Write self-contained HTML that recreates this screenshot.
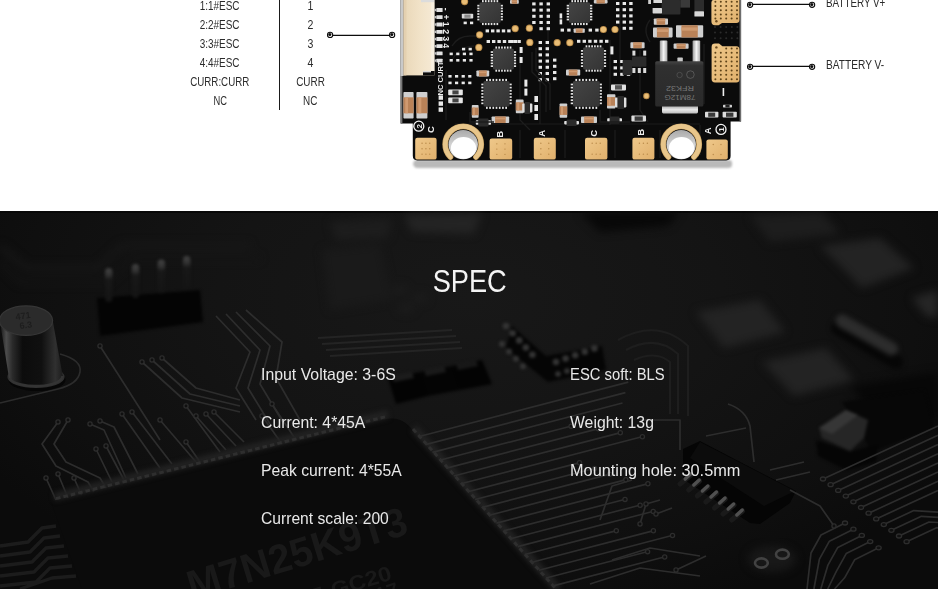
<!DOCTYPE html>
<html lang="en">
<head>
<meta charset="utf-8">
<title>4in1 ESC - Wiring &amp; SPEC</title>
<style>
*{box-sizing:border-box}
html,body{margin:0;padding:0;background:#fff}
body{width:938px;height:589px;overflow:hidden;position:relative;font-family:"Liberation Sans","Noto Sans CJK SC",sans-serif;-webkit-font-smoothing:antialiased}
.wiring{position:absolute;left:0;top:0;width:938px;height:211px;background:#fff;overflow:hidden}
.spec{position:absolute;left:0;top:211px;width:938px;height:378px;background:#131313;overflow:hidden}
svg{position:absolute;left:0;top:0;display:block}
svg text{font-family:"Liberation Sans","Noto Sans CJK SC",sans-serif}
.pin-table{position:absolute;left:0;top:0;margin:0;padding:0;list-style:none}
.t{position:absolute;white-space:nowrap;font-size:12.8px;line-height:14px;height:14px;color:#2b2b2b;text-align:center}
.t b{display:inline-block;font-weight:400;transform-origin:50% 50%}
.t.l{text-align:left}
.t.l b{transform-origin:0 50%}
.rule{position:absolute;left:279px;top:0;width:1px;height:110px;background:#1a1a1a}
h2{position:absolute;left:0;top:51.1px;width:938px;margin:0;padding-left:1px;text-align:center;font-size:31.4px;line-height:40px;font-weight:400;color:#f4f4f4}
h2 b{display:inline-block;font-weight:400;transform:scaleX(.866)}
.specs{margin:0;padding:0;list-style:none}
.specs li{position:absolute;white-space:nowrap;font-size:17px;line-height:20px;color:#e8e8e8}
.specs li b{display:inline-block;font-weight:400;transform-origin:0 50%}
</style>
</head>
<body>
<section class="wiring">
<svg width="938" height="211" viewBox="0 0 938 211">
<defs>
<linearGradient id="chipg" x1="0" y1="0" x2="1" y2="1"><stop offset="0" stop-color="#444"/><stop offset="1" stop-color="#343434"/></linearGradient>
<linearGradient id="regg" x1="0" y1="0" x2="0" y2="1"><stop offset="0" stop-color="#454545"/><stop offset=".1" stop-color="#303030"/><stop offset="1" stop-color="#2a2a2a"/></linearGradient>
<linearGradient id="goldg" x1="0" y1="0" x2="1" y2="1"><stop offset="0" stop-color="#efc88a"/><stop offset="1" stop-color="#e0b06c"/></linearGradient>
<linearGradient id="ringg" x1="0" y1="0" x2="0" y2="1"><stop offset="0" stop-color="#d2b074"/><stop offset="1" stop-color="#c39f60"/></linearGradient>
<linearGradient id="conn" x1="0" y1="0" x2="1" y2="0"><stop offset="0" stop-color="#e9d7b8"/><stop offset=".5" stop-color="#f1e2c7"/><stop offset="1" stop-color="#f6ead6"/></linearGradient>
<linearGradient id="lead" x1="0" y1="0" x2="1" y2="0"><stop offset="0" stop-color="#9a9a9a"/><stop offset=".5" stop-color="#f4f4f4"/><stop offset="1" stop-color="#a8a8a8"/></linearGradient>
<linearGradient id="tab" x1="0" y1="0" x2="0" y2="1"><stop offset="0" stop-color="#8a8a8a"/><stop offset=".6" stop-color="#e8e8e8"/><stop offset="1" stop-color="#bdbdbd"/></linearGradient>
<linearGradient id="holeg" x1="0" y1="0" x2="0" y2="1"><stop offset="0" stop-color="#a9a9a9"/><stop offset=".45" stop-color="#cfcfcf"/><stop offset="1" stop-color="#e8e8e8"/></linearGradient>
<filter id="sh2" color-interpolation-filters="sRGB" x="-20%" y="-20%" width="140%" height="140%"><feGaussianBlur stdDeviation="0.6"/></filter>
<filter id="sh" color-interpolation-filters="sRGB" x="-5%" y="-60%" width="110%" height="220%"><feGaussianBlur stdDeviation="1.1"/></filter>
</defs>
<path d="M415 160 H729 q3 0 3 3 v2 q0 3 -4 3 H418 q-5 0 -5 -5 z" fill="#b9b9b9" filter="url(#sh)"/>
<path d="M400.6 0 H741 V121.5 H730.6 V156 q0 4.4 -4.4 4.4 H417.4 q-4.6 0 -4.6 -4.6 V123.6 H400.6 z" fill="#0b0b0b"/>
<rect x="400.6" y="0" width="3" height="76" fill="#c9c9c9"/>
<rect x="400.6" y="76" width="1.8" height="47.6" fill="#777"/>
<rect x="739.6" y="0" width="1.6" height="121.5" fill="#6d6d6d"/>
<g stroke="#1d1d1d" stroke-width="1.2" fill="none"><path d="M446 70 V120 M452 60 q8 -14 22 -14 M520 50 V120 l10 10 M548 8 V70 l-8 10 V124 M610 40 V125 M620 12 v60 M640 50 v60 l8 12 M455 124 H700 M470 130 v28 M520 130 v28 M565 130 v28 M615 130 v28 M660 130 v28 M700 125 v30"/></g>
<rect x="403.6" y="0" width="30.8" height="75.4" fill="url(#conn)"/>
<path d="M423 71 H434.4 V75.4 H423 z" fill="#0b0b0b"/>
<path d="M423 71 H431 V72.4 H423 z" fill="#d8d8d8"/>
<rect x="403.6" y="0" width="2.8" height="75.4" fill="#e4d0b0"/>
<rect x="431.2" y="2.2" width="3.2" height="68.8" fill="#f7efe0"/>
<rect x="421" y="0" width="13.4" height="2.2" fill="#dcdcdc"/>
<rect x="434.4" y="8.8" width="2" height="2.4" fill="#bdbdbd"/>
<rect x="436.4" y="8.1" width="6.2" height="3.8" fill="#e2e2e2" rx="0.5"/>
<rect x="434.4" y="16" width="2" height="2.4" fill="#bdbdbd"/>
<rect x="436.4" y="15.3" width="6.2" height="3.8" fill="#e2e2e2" rx="0.5"/>
<rect x="434.4" y="23.3" width="2" height="2.4" fill="#bdbdbd"/>
<rect x="436.4" y="22.6" width="6.2" height="3.8" fill="#e2e2e2" rx="0.5"/>
<rect x="434.4" y="30.6" width="2" height="2.4" fill="#bdbdbd"/>
<rect x="436.4" y="29.9" width="6.2" height="3.8" fill="#e2e2e2" rx="0.5"/>
<rect x="434.4" y="37.8" width="2" height="2.4" fill="#bdbdbd"/>
<rect x="436.4" y="37.1" width="6.2" height="3.8" fill="#e2e2e2" rx="0.5"/>
<rect x="434.4" y="45" width="2" height="2.4" fill="#bdbdbd"/>
<rect x="436.4" y="44.3" width="6.2" height="3.8" fill="#e2e2e2" rx="0.5"/>
<rect x="434.4" y="52.2" width="2" height="2.4" fill="#bdbdbd"/>
<rect x="436.4" y="51.5" width="6.2" height="3.8" fill="#e2e2e2" rx="0.5"/>
<rect x="434.4" y="59.4" width="2" height="2.4" fill="#bdbdbd"/>
<rect x="436.4" y="58.7" width="6.2" height="3.8" fill="#e2e2e2" rx="0.5"/>
<text x="443" y="9.2" font-size="8.8" font-weight="bold" fill="#f2f2f2" opacity=".98" text-anchor="middle" transform="rotate(90 443 9.2)">-</text>
<text x="443" y="17" font-size="8.8" font-weight="bold" fill="#f2f2f2" opacity=".98" text-anchor="middle" transform="rotate(90 443 17)">+</text>
<text x="443" y="24.3" font-size="8.8" font-weight="bold" fill="#f2f2f2" opacity=".98" text-anchor="middle" transform="rotate(90 443 24.3)">1</text>
<text x="443" y="31.6" font-size="8.8" font-weight="bold" fill="#f2f2f2" opacity=".98" text-anchor="middle" transform="rotate(90 443 31.6)">2</text>
<text x="443" y="38.6" font-size="8.8" font-weight="bold" fill="#f2f2f2" opacity=".98" text-anchor="middle" transform="rotate(90 443 38.6)">3</text>
<text x="443" y="45.8" font-size="8.8" font-weight="bold" fill="#f2f2f2" opacity=".98" text-anchor="middle" transform="rotate(90 443 45.8)">4</text>
<text x="443.4" y="78.4" font-size="7.6" font-weight="bold" fill="#f2f2f2" opacity=".98" text-anchor="middle" transform="rotate(-90 443.4 78.4)">NC CURT</text>
<circle cx="464.6" cy="1.6" r="3.6" fill="#b88a48"/>
<circle cx="464.6" cy="1.6" r="2.7" fill="#e9bd76"/>
<circle cx="479.6" cy="34.8" r="3.6" fill="#b88a48"/>
<circle cx="479.6" cy="34.8" r="2.7" fill="#e9bd76"/>
<circle cx="478.8" cy="47.4" r="3.6" fill="#b88a48"/>
<circle cx="478.8" cy="47.4" r="2.7" fill="#e9bd76"/>
<circle cx="515.2" cy="28.6" r="3.6" fill="#b88a48"/>
<circle cx="515.2" cy="28.6" r="2.7" fill="#e9bd76"/>
<circle cx="529.4" cy="28.2" r="3.6" fill="#b88a48"/>
<circle cx="529.4" cy="28.2" r="2.7" fill="#e9bd76"/>
<circle cx="529.8" cy="42.4" r="3.6" fill="#b88a48"/>
<circle cx="529.8" cy="42.4" r="2.7" fill="#e9bd76"/>
<circle cx="557.2" cy="42.7" r="3.6" fill="#b88a48"/>
<circle cx="557.2" cy="42.7" r="2.7" fill="#e9bd76"/>
<circle cx="569.8" cy="42.7" r="3.6" fill="#b88a48"/>
<circle cx="569.8" cy="42.7" r="2.7" fill="#e9bd76"/>
<circle cx="603.4" cy="29.5" r="3.6" fill="#b88a48"/>
<circle cx="603.4" cy="29.5" r="2.7" fill="#e9bd76"/>
<circle cx="615" cy="29.5" r="3.6" fill="#b88a48"/>
<circle cx="615" cy="29.5" r="2.7" fill="#e9bd76"/>
<circle cx="646.4" cy="96" r="3.2" fill="#b88a48"/>
<circle cx="646.4" cy="96" r="2.3" fill="#e9bd76"/>
<g fill="#e4e4e4">
<rect x="482" y="0.1" width="1.7" height="2.3" fill="#e4e4e4"/>
<rect x="482" y="22.8" width="1.7" height="2.3" fill="#e4e4e4"/>
<rect x="477.3" y="4.8" width="2.3" height="1.7" fill="#e4e4e4"/>
<rect x="500.6" y="4.8" width="2.3" height="1.7" fill="#e4e4e4"/>
<rect x="484.9" y="0.1" width="1.7" height="2.3" fill="#e4e4e4"/>
<rect x="484.9" y="22.8" width="1.7" height="2.3" fill="#e4e4e4"/>
<rect x="477.3" y="7.58" width="2.3" height="1.7" fill="#e4e4e4"/>
<rect x="500.6" y="7.58" width="2.3" height="1.7" fill="#e4e4e4"/>
<rect x="487.8" y="0.1" width="1.7" height="2.3" fill="#e4e4e4"/>
<rect x="487.8" y="22.8" width="1.7" height="2.3" fill="#e4e4e4"/>
<rect x="477.3" y="10.36" width="2.3" height="1.7" fill="#e4e4e4"/>
<rect x="500.6" y="10.36" width="2.3" height="1.7" fill="#e4e4e4"/>
<rect x="490.7" y="0.1" width="1.7" height="2.3" fill="#e4e4e4"/>
<rect x="490.7" y="22.8" width="1.7" height="2.3" fill="#e4e4e4"/>
<rect x="477.3" y="13.14" width="2.3" height="1.7" fill="#e4e4e4"/>
<rect x="500.6" y="13.14" width="2.3" height="1.7" fill="#e4e4e4"/>
<rect x="493.6" y="0.1" width="1.7" height="2.3" fill="#e4e4e4"/>
<rect x="493.6" y="22.8" width="1.7" height="2.3" fill="#e4e4e4"/>
<rect x="477.3" y="15.92" width="2.3" height="1.7" fill="#e4e4e4"/>
<rect x="500.6" y="15.92" width="2.3" height="1.7" fill="#e4e4e4"/>
<rect x="496.5" y="0.1" width="1.7" height="2.3" fill="#e4e4e4"/>
<rect x="496.5" y="22.8" width="1.7" height="2.3" fill="#e4e4e4"/>
<rect x="477.3" y="18.7" width="2.3" height="1.7" fill="#e4e4e4"/>
<rect x="500.6" y="18.7" width="2.3" height="1.7" fill="#e4e4e4"/>
</g>
<rect x="479.6" y="2.4" width="21" height="20.4" fill="url(#chipg)" rx="1"/>
<g fill="#e4e4e4">
<rect x="571.4" y="0.1" width="1.7" height="2.3" fill="#e4e4e4"/>
<rect x="571.4" y="22.8" width="1.7" height="2.3" fill="#e4e4e4"/>
<rect x="566.7" y="4.8" width="2.3" height="1.7" fill="#e4e4e4"/>
<rect x="590" y="4.8" width="2.3" height="1.7" fill="#e4e4e4"/>
<rect x="574.3" y="0.1" width="1.7" height="2.3" fill="#e4e4e4"/>
<rect x="574.3" y="22.8" width="1.7" height="2.3" fill="#e4e4e4"/>
<rect x="566.7" y="7.58" width="2.3" height="1.7" fill="#e4e4e4"/>
<rect x="590" y="7.58" width="2.3" height="1.7" fill="#e4e4e4"/>
<rect x="577.2" y="0.1" width="1.7" height="2.3" fill="#e4e4e4"/>
<rect x="577.2" y="22.8" width="1.7" height="2.3" fill="#e4e4e4"/>
<rect x="566.7" y="10.36" width="2.3" height="1.7" fill="#e4e4e4"/>
<rect x="590" y="10.36" width="2.3" height="1.7" fill="#e4e4e4"/>
<rect x="580.1" y="0.1" width="1.7" height="2.3" fill="#e4e4e4"/>
<rect x="580.1" y="22.8" width="1.7" height="2.3" fill="#e4e4e4"/>
<rect x="566.7" y="13.14" width="2.3" height="1.7" fill="#e4e4e4"/>
<rect x="590" y="13.14" width="2.3" height="1.7" fill="#e4e4e4"/>
<rect x="583" y="0.1" width="1.7" height="2.3" fill="#e4e4e4"/>
<rect x="583" y="22.8" width="1.7" height="2.3" fill="#e4e4e4"/>
<rect x="566.7" y="15.92" width="2.3" height="1.7" fill="#e4e4e4"/>
<rect x="590" y="15.92" width="2.3" height="1.7" fill="#e4e4e4"/>
<rect x="585.9" y="0.1" width="1.7" height="2.3" fill="#e4e4e4"/>
<rect x="585.9" y="22.8" width="1.7" height="2.3" fill="#e4e4e4"/>
<rect x="566.7" y="18.7" width="2.3" height="1.7" fill="#e4e4e4"/>
<rect x="590" y="18.7" width="2.3" height="1.7" fill="#e4e4e4"/>
</g>
<rect x="569" y="2.4" width="21" height="20.4" fill="url(#chipg)" rx="1"/>
<g fill="#e4e4e4">
<rect x="495.4" y="46.5" width="1.7" height="2.3" fill="#e4e4e4"/>
<rect x="495.4" y="69.4" width="1.7" height="2.3" fill="#e4e4e4"/>
<rect x="490.7" y="51.2" width="2.3" height="1.7" fill="#e4e4e4"/>
<rect x="513.8" y="51.2" width="2.3" height="1.7" fill="#e4e4e4"/>
<rect x="498.26" y="46.5" width="1.7" height="2.3" fill="#e4e4e4"/>
<rect x="498.26" y="69.4" width="1.7" height="2.3" fill="#e4e4e4"/>
<rect x="490.7" y="54.02" width="2.3" height="1.7" fill="#e4e4e4"/>
<rect x="513.8" y="54.02" width="2.3" height="1.7" fill="#e4e4e4"/>
<rect x="501.12" y="46.5" width="1.7" height="2.3" fill="#e4e4e4"/>
<rect x="501.12" y="69.4" width="1.7" height="2.3" fill="#e4e4e4"/>
<rect x="490.7" y="56.84" width="2.3" height="1.7" fill="#e4e4e4"/>
<rect x="513.8" y="56.84" width="2.3" height="1.7" fill="#e4e4e4"/>
<rect x="503.98" y="46.5" width="1.7" height="2.3" fill="#e4e4e4"/>
<rect x="503.98" y="69.4" width="1.7" height="2.3" fill="#e4e4e4"/>
<rect x="490.7" y="59.66" width="2.3" height="1.7" fill="#e4e4e4"/>
<rect x="513.8" y="59.66" width="2.3" height="1.7" fill="#e4e4e4"/>
<rect x="506.84" y="46.5" width="1.7" height="2.3" fill="#e4e4e4"/>
<rect x="506.84" y="69.4" width="1.7" height="2.3" fill="#e4e4e4"/>
<rect x="490.7" y="62.48" width="2.3" height="1.7" fill="#e4e4e4"/>
<rect x="513.8" y="62.48" width="2.3" height="1.7" fill="#e4e4e4"/>
<rect x="509.7" y="46.5" width="1.7" height="2.3" fill="#e4e4e4"/>
<rect x="509.7" y="69.4" width="1.7" height="2.3" fill="#e4e4e4"/>
<rect x="490.7" y="65.3" width="2.3" height="1.7" fill="#e4e4e4"/>
<rect x="513.8" y="65.3" width="2.3" height="1.7" fill="#e4e4e4"/>
</g>
<rect x="493" y="48.8" width="20.8" height="20.6" fill="url(#chipg)" rx="1"/>
<g fill="#e4e4e4">
<rect x="585.6" y="45.3" width="1.7" height="2.3" fill="#e4e4e4"/>
<rect x="585.6" y="69.4" width="1.7" height="2.3" fill="#e4e4e4"/>
<rect x="580.9" y="50" width="2.3" height="1.7" fill="#e4e4e4"/>
<rect x="603.8" y="50" width="2.3" height="1.7" fill="#e4e4e4"/>
<rect x="588.42" y="45.3" width="1.7" height="2.3" fill="#e4e4e4"/>
<rect x="588.42" y="69.4" width="1.7" height="2.3" fill="#e4e4e4"/>
<rect x="580.9" y="53.06" width="2.3" height="1.7" fill="#e4e4e4"/>
<rect x="603.8" y="53.06" width="2.3" height="1.7" fill="#e4e4e4"/>
<rect x="591.24" y="45.3" width="1.7" height="2.3" fill="#e4e4e4"/>
<rect x="591.24" y="69.4" width="1.7" height="2.3" fill="#e4e4e4"/>
<rect x="580.9" y="56.12" width="2.3" height="1.7" fill="#e4e4e4"/>
<rect x="603.8" y="56.12" width="2.3" height="1.7" fill="#e4e4e4"/>
<rect x="594.06" y="45.3" width="1.7" height="2.3" fill="#e4e4e4"/>
<rect x="594.06" y="69.4" width="1.7" height="2.3" fill="#e4e4e4"/>
<rect x="580.9" y="59.18" width="2.3" height="1.7" fill="#e4e4e4"/>
<rect x="603.8" y="59.18" width="2.3" height="1.7" fill="#e4e4e4"/>
<rect x="596.88" y="45.3" width="1.7" height="2.3" fill="#e4e4e4"/>
<rect x="596.88" y="69.4" width="1.7" height="2.3" fill="#e4e4e4"/>
<rect x="580.9" y="62.24" width="2.3" height="1.7" fill="#e4e4e4"/>
<rect x="603.8" y="62.24" width="2.3" height="1.7" fill="#e4e4e4"/>
<rect x="599.7" y="45.3" width="1.7" height="2.3" fill="#e4e4e4"/>
<rect x="599.7" y="69.4" width="1.7" height="2.3" fill="#e4e4e4"/>
<rect x="580.9" y="65.3" width="2.3" height="1.7" fill="#e4e4e4"/>
<rect x="603.8" y="65.3" width="2.3" height="1.7" fill="#e4e4e4"/>
</g>
<rect x="583.2" y="47.6" width="20.6" height="21.8" fill="url(#chipg)" rx="1"/>
<g fill="#e4e4e4">
<rect x="486" y="78.9" width="1.7" height="2.3" fill="#e4e4e4"/>
<rect x="486" y="106.6" width="1.7" height="2.3" fill="#e4e4e4"/>
<rect x="481.3" y="83.6" width="2.3" height="1.7" fill="#e4e4e4"/>
<rect x="509.4" y="83.6" width="2.3" height="1.7" fill="#e4e4e4"/>
<rect x="489.22" y="78.9" width="1.7" height="2.3" fill="#e4e4e4"/>
<rect x="489.22" y="106.6" width="1.7" height="2.3" fill="#e4e4e4"/>
<rect x="481.3" y="86.75" width="2.3" height="1.7" fill="#e4e4e4"/>
<rect x="509.4" y="86.75" width="2.3" height="1.7" fill="#e4e4e4"/>
<rect x="492.43" y="78.9" width="1.7" height="2.3" fill="#e4e4e4"/>
<rect x="492.43" y="106.6" width="1.7" height="2.3" fill="#e4e4e4"/>
<rect x="481.3" y="89.9" width="2.3" height="1.7" fill="#e4e4e4"/>
<rect x="509.4" y="89.9" width="2.3" height="1.7" fill="#e4e4e4"/>
<rect x="495.65" y="78.9" width="1.7" height="2.3" fill="#e4e4e4"/>
<rect x="495.65" y="106.6" width="1.7" height="2.3" fill="#e4e4e4"/>
<rect x="481.3" y="93.05" width="2.3" height="1.7" fill="#e4e4e4"/>
<rect x="509.4" y="93.05" width="2.3" height="1.7" fill="#e4e4e4"/>
<rect x="498.87" y="78.9" width="1.7" height="2.3" fill="#e4e4e4"/>
<rect x="498.87" y="106.6" width="1.7" height="2.3" fill="#e4e4e4"/>
<rect x="481.3" y="96.2" width="2.3" height="1.7" fill="#e4e4e4"/>
<rect x="509.4" y="96.2" width="2.3" height="1.7" fill="#e4e4e4"/>
<rect x="502.08" y="78.9" width="1.7" height="2.3" fill="#e4e4e4"/>
<rect x="502.08" y="106.6" width="1.7" height="2.3" fill="#e4e4e4"/>
<rect x="481.3" y="99.35" width="2.3" height="1.7" fill="#e4e4e4"/>
<rect x="509.4" y="99.35" width="2.3" height="1.7" fill="#e4e4e4"/>
<rect x="505.3" y="78.9" width="1.7" height="2.3" fill="#e4e4e4"/>
<rect x="505.3" y="106.6" width="1.7" height="2.3" fill="#e4e4e4"/>
<rect x="481.3" y="102.5" width="2.3" height="1.7" fill="#e4e4e4"/>
<rect x="509.4" y="102.5" width="2.3" height="1.7" fill="#e4e4e4"/>
</g>
<rect x="483.6" y="81.2" width="25.8" height="25.4" fill="url(#chipg)" rx="1"/>
<g fill="#e4e4e4">
<rect x="575.4" y="78.9" width="1.7" height="2.3" fill="#e4e4e4"/>
<rect x="575.4" y="106.6" width="1.7" height="2.3" fill="#e4e4e4"/>
<rect x="570.7" y="83.6" width="2.3" height="1.7" fill="#e4e4e4"/>
<rect x="599.6" y="83.6" width="2.3" height="1.7" fill="#e4e4e4"/>
<rect x="578.75" y="78.9" width="1.7" height="2.3" fill="#e4e4e4"/>
<rect x="578.75" y="106.6" width="1.7" height="2.3" fill="#e4e4e4"/>
<rect x="570.7" y="86.75" width="2.3" height="1.7" fill="#e4e4e4"/>
<rect x="599.6" y="86.75" width="2.3" height="1.7" fill="#e4e4e4"/>
<rect x="582.1" y="78.9" width="1.7" height="2.3" fill="#e4e4e4"/>
<rect x="582.1" y="106.6" width="1.7" height="2.3" fill="#e4e4e4"/>
<rect x="570.7" y="89.9" width="2.3" height="1.7" fill="#e4e4e4"/>
<rect x="599.6" y="89.9" width="2.3" height="1.7" fill="#e4e4e4"/>
<rect x="585.45" y="78.9" width="1.7" height="2.3" fill="#e4e4e4"/>
<rect x="585.45" y="106.6" width="1.7" height="2.3" fill="#e4e4e4"/>
<rect x="570.7" y="93.05" width="2.3" height="1.7" fill="#e4e4e4"/>
<rect x="599.6" y="93.05" width="2.3" height="1.7" fill="#e4e4e4"/>
<rect x="588.8" y="78.9" width="1.7" height="2.3" fill="#e4e4e4"/>
<rect x="588.8" y="106.6" width="1.7" height="2.3" fill="#e4e4e4"/>
<rect x="570.7" y="96.2" width="2.3" height="1.7" fill="#e4e4e4"/>
<rect x="599.6" y="96.2" width="2.3" height="1.7" fill="#e4e4e4"/>
<rect x="592.15" y="78.9" width="1.7" height="2.3" fill="#e4e4e4"/>
<rect x="592.15" y="106.6" width="1.7" height="2.3" fill="#e4e4e4"/>
<rect x="570.7" y="99.35" width="2.3" height="1.7" fill="#e4e4e4"/>
<rect x="599.6" y="99.35" width="2.3" height="1.7" fill="#e4e4e4"/>
<rect x="595.5" y="78.9" width="1.7" height="2.3" fill="#e4e4e4"/>
<rect x="595.5" y="106.6" width="1.7" height="2.3" fill="#e4e4e4"/>
<rect x="570.7" y="102.5" width="2.3" height="1.7" fill="#e4e4e4"/>
<rect x="599.6" y="102.5" width="2.3" height="1.7" fill="#e4e4e4"/>
</g>
<rect x="573" y="81.2" width="26.6" height="25.4" fill="url(#chipg)" rx="1"/>
<g fill="#e9e9e9">
<rect x="449.6" y="52.6" width="3.2" height="2.6"/>
<rect x="456.2" y="52.6" width="3.2" height="2.6"/>
<rect x="462.8" y="52.6" width="3.2" height="2.6"/>
<rect x="469.4" y="52.6" width="3.2" height="2.6"/>
<rect x="449.6" y="59" width="3.2" height="2.6"/>
<rect x="456.2" y="59" width="3.2" height="2.6"/>
<rect x="462.8" y="59" width="3.2" height="2.6"/>
<rect x="469.4" y="59" width="3.2" height="2.6"/>
</g>
<g fill="#e9e9e9">
<rect x="462" y="47.8" width="3.2" height="2.6"/>
<rect x="468.6" y="47.8" width="3.2" height="2.6"/>
</g>
<g fill="#e9e9e9">
<rect x="448.4" y="75" width="3.2" height="2.6"/>
<rect x="455" y="75" width="3.2" height="2.6"/>
<rect x="461.6" y="75" width="3.2" height="2.6"/>
<rect x="468.2" y="75" width="3.2" height="2.6"/>
<rect x="448.4" y="81.6" width="3.2" height="2.6"/>
<rect x="455" y="81.6" width="3.2" height="2.6"/>
<rect x="461.6" y="81.6" width="3.2" height="2.6"/>
<rect x="468.2" y="81.6" width="3.2" height="2.6"/>
</g>
<rect x="448.2" y="89.6" width="14.6" height="5.6" fill="#e6e6e6" rx="0.8"/>
<rect x="452.4" y="90.4" width="6.2" height="4" fill="#444"/>
<rect x="448.2" y="97.6" width="14.6" height="5.6" fill="#e6e6e6" rx="0.8"/>
<rect x="452.4" y="98.4" width="6.2" height="4" fill="#444"/>
<g fill="#e9e9e9">
<rect x="463.6" y="21.6" width="3.2" height="2.6"/>
<rect x="470" y="21.6" width="3.2" height="2.6"/>
</g>
<g fill="#e9e9e9">
<rect x="485.6" y="29.4" width="3.4" height="3"/>
<rect x="491" y="29.4" width="3.4" height="3"/>
<rect x="496.4" y="29.4" width="3.4" height="3"/>
<rect x="501.8" y="29.4" width="3.4" height="3"/>
<rect x="507.2" y="29.4" width="3.4" height="3"/>
</g>
<g fill="#e9e9e9">
<rect x="486.6" y="40" width="3.4" height="3"/>
<rect x="492" y="40" width="3.4" height="3"/>
<rect x="497.4" y="40" width="3.4" height="3"/>
<rect x="502.8" y="40" width="3.4" height="3"/>
<rect x="508.2" y="40" width="3.4" height="3"/>
<rect x="513.6" y="40" width="3.4" height="3"/>
</g>
<g fill="#e9e9e9">
<rect x="532.2" y="2.4" width="3.4" height="3"/>
<rect x="539.4" y="2.4" width="3.4" height="3"/>
<rect x="546.6" y="2.4" width="3.4" height="3"/>
<rect x="532.2" y="8.6" width="3.4" height="3"/>
<rect x="539.4" y="8.6" width="3.4" height="3"/>
<rect x="546.6" y="8.6" width="3.4" height="3"/>
<rect x="532.2" y="14.8" width="3.4" height="3"/>
<rect x="539.4" y="14.8" width="3.4" height="3"/>
<rect x="546.6" y="14.8" width="3.4" height="3"/>
<rect x="532.2" y="21" width="3.4" height="3"/>
<rect x="539.4" y="21" width="3.4" height="3"/>
<rect x="546.6" y="21" width="3.4" height="3"/>
</g>
<g fill="#e9e9e9">
<rect x="539.4" y="27.2" width="3.4" height="3"/>
<rect x="546.6" y="27.2" width="3.4" height="3"/>
</g>
<g fill="#e9e9e9">
<rect x="510.4" y="40" width="3.4" height="3"/>
<rect x="517.4" y="40" width="3.4" height="3"/>
</g>
<g fill="#e9e9e9">
<rect x="538.6" y="41" width="3.4" height="3"/>
<rect x="545.6" y="41" width="3.4" height="3"/>
<rect x="538.6" y="47.2" width="3.4" height="3"/>
<rect x="545.6" y="47.2" width="3.4" height="3"/>
<rect x="538.6" y="53.4" width="3.4" height="3"/>
<rect x="545.6" y="53.4" width="3.4" height="3"/>
<rect x="538.6" y="59.6" width="3.4" height="3"/>
<rect x="545.6" y="59.6" width="3.4" height="3"/>
<rect x="538.6" y="65.8" width="3.4" height="3"/>
<rect x="545.6" y="65.8" width="3.4" height="3"/>
<rect x="538.6" y="72" width="3.4" height="3"/>
<rect x="545.6" y="72" width="3.4" height="3"/>
<rect x="538.6" y="78.2" width="3.4" height="3"/>
<rect x="545.6" y="78.2" width="3.4" height="3"/>
</g>
<g fill="#e9e9e9">
<rect x="553" y="58.6" width="3.4" height="3"/>
<rect x="553" y="64.8" width="3.4" height="3"/>
<rect x="553" y="71" width="3.4" height="3"/>
<rect x="553" y="77.2" width="3.4" height="3"/>
</g>
<g fill="#e9e9e9">
<rect x="560.6" y="28.6" width="3.4" height="3"/>
<rect x="567.2" y="28.6" width="3.4" height="3"/>
</g>
<g fill="#e9e9e9">
<rect x="588.6" y="28.6" width="3.4" height="3"/>
<rect x="595.2" y="28.6" width="3.4" height="3"/>
</g>
<g fill="#e9e9e9">
<rect x="577" y="39.8" width="3.4" height="3"/>
<rect x="582.6" y="39.8" width="3.4" height="3"/>
<rect x="588.2" y="39.8" width="3.4" height="3"/>
<rect x="593.8" y="39.8" width="3.4" height="3"/>
<rect x="599.4" y="39.8" width="3.4" height="3"/>
<rect x="605" y="39.8" width="3.4" height="3"/>
</g>
<g fill="#e9e9e9">
<rect x="616" y="2" width="3.4" height="3"/>
<rect x="622.6" y="2" width="3.4" height="3"/>
<rect x="629.2" y="2" width="3.4" height="3"/>
<rect x="616" y="8.2" width="3.4" height="3"/>
<rect x="622.6" y="8.2" width="3.4" height="3"/>
<rect x="629.2" y="8.2" width="3.4" height="3"/>
<rect x="616" y="14.4" width="3.4" height="3"/>
<rect x="622.6" y="14.4" width="3.4" height="3"/>
<rect x="629.2" y="14.4" width="3.4" height="3"/>
<rect x="616" y="20.6" width="3.4" height="3"/>
<rect x="622.6" y="20.6" width="3.4" height="3"/>
<rect x="629.2" y="20.6" width="3.4" height="3"/>
</g>
<g fill="#e9e9e9">
<rect x="622.6" y="26.8" width="3.4" height="3"/>
<rect x="629.2" y="26.8" width="3.4" height="3"/>
</g>
<g fill="#e9e9e9">
<rect x="613.6" y="60" width="3.4" height="3"/>
<rect x="620.2" y="60" width="3.4" height="3"/>
<rect x="626.8" y="60" width="3.4" height="3"/>
<rect x="613.6" y="66.4" width="3.4" height="3"/>
<rect x="620.2" y="66.4" width="3.4" height="3"/>
<rect x="626.8" y="66.4" width="3.4" height="3"/>
<rect x="613.6" y="72.8" width="3.4" height="3"/>
<rect x="620.2" y="72.8" width="3.4" height="3"/>
<rect x="626.8" y="72.8" width="3.4" height="3"/>
</g>
<g fill="#e9e9e9">
<rect x="519.6" y="47" width="3" height="6"/>
<rect x="519.6" y="57" width="3" height="6"/>
</g>
<g fill="#e9e9e9">
<rect x="559.6" y="13.4" width="2.6" height="5"/>
<rect x="559.6" y="19.4" width="2.6" height="5"/>
</g>
<g fill="#e9e9e9">
<rect x="610.4" y="46.4" width="3" height="8"/>
</g>
<g fill="#e9e9e9">
<rect x="524.4" y="79.6" width="3" height="7"/>
<rect x="524.4" y="88.6" width="3" height="7"/>
</g>
<g fill="#e9e9e9">
<rect x="534.4" y="96" width="3.6" height="6"/>
<rect x="534.4" y="105" width="3.6" height="6"/>
<rect x="534.4" y="114" width="3.6" height="6"/>
</g>
<g fill="#e9e9e9">
<rect x="438.6" y="95.4" width="4.4" height="4.4"/>
<rect x="438.6" y="101.4" width="4.4" height="4.4"/>
<rect x="438.6" y="107.4" width="4.4" height="4.4"/>
</g>
<rect x="403.4" y="92" width="10.2" height="26.6" fill="#cfcfcf" rx="0.8"/>
<rect x="403.4" y="97.32" width="10.2" height="15.96" fill="#b98258"/>
<rect x="405.24" y="97.32" width="2.75" height="15.96" fill="#cf9a70"/>
<rect x="416.4" y="92" width="11" height="26.6" fill="#cfcfcf" rx="0.8"/>
<rect x="416.4" y="97.32" width="11" height="15.96" fill="#b98258"/>
<rect x="418.38" y="97.32" width="2.97" height="15.96" fill="#cf9a70"/>
<rect x="461.8" y="13.8" width="11.4" height="4.8" fill="#d9d9d9" rx="0.8"/>
<rect x="464.4" y="14.6" width="6.2" height="3.2" fill="#8a8a8a"/>
<rect x="476.4" y="70.4" width="12.8" height="6" fill="#cfcfcf" rx="0.8"/>
<rect x="478.96" y="70.4" width="7.68" height="6" fill="#b98258"/>
<rect x="478.96" y="71.48" width="7.68" height="1.62" fill="#cf9a70"/>
<rect x="510" y="0" width="8.8" height="3.8" fill="#cfcfcf" rx="0.8"/>
<rect x="511.76" y="0" width="5.28" height="3.8" fill="#b98258"/>
<rect x="511.76" y="0.68" width="5.28" height="1.03" fill="#cf9a70"/>
<rect x="593.8" y="0" width="13.8" height="3.4" fill="#cfcfcf" rx="0.8"/>
<rect x="596.56" y="0" width="8.28" height="3.4" fill="#b98258"/>
<rect x="596.56" y="0.61" width="8.28" height="0.92" fill="#cf9a70"/>
<rect x="566" y="69.6" width="14.2" height="6" fill="#cfcfcf" rx="0.8"/>
<rect x="568.84" y="69.6" width="8.52" height="6" fill="#b98258"/>
<rect x="568.84" y="70.68" width="8.52" height="1.62" fill="#cf9a70"/>
<rect x="573.6" y="28.4" width="11.2" height="4.4" fill="#cfcfcf" rx="0.8"/>
<rect x="575.84" y="28.4" width="6.72" height="4.4" fill="#b98258"/>
<rect x="575.84" y="29.19" width="6.72" height="1.19" fill="#cf9a70"/>
<rect x="630.4" y="42.2" width="14.2" height="6" fill="#cfcfcf" rx="0.8"/>
<rect x="633.24" y="42.2" width="8.52" height="6" fill="#b98258"/>
<rect x="633.24" y="43.28" width="8.52" height="1.62" fill="#cf9a70"/>
<rect x="515.8" y="99.6" width="7.8" height="13.6" fill="#cfcfcf" rx="0.8"/>
<rect x="515.8" y="102.32" width="7.8" height="8.16" fill="#b98258"/>
<rect x="517.2" y="102.32" width="2.11" height="8.16" fill="#cf9a70"/>
<rect x="559.6" y="103.4" width="7.6" height="14.4" fill="#cfcfcf" rx="0.8"/>
<rect x="559.6" y="106.28" width="7.6" height="8.64" fill="#b98258"/>
<rect x="560.97" y="106.28" width="2.05" height="8.64" fill="#cf9a70"/>
<rect x="607" y="94.2" width="8.4" height="14.4" fill="#cfcfcf" rx="0.8"/>
<rect x="607" y="97.08" width="8.4" height="8.64" fill="#b98258"/>
<rect x="608.51" y="97.08" width="2.27" height="8.64" fill="#cf9a70"/>
<rect x="581" y="116.4" width="16" height="6.6" fill="#cfcfcf" rx="0.8"/>
<rect x="584.2" y="116.4" width="9.6" height="6.6" fill="#b98258"/>
<rect x="584.2" y="117.59" width="9.6" height="1.78" fill="#cf9a70"/>
<rect x="471.8" y="105" width="6.8" height="12.8" fill="#cfcfcf" rx="0.8"/>
<rect x="471.8" y="107.56" width="6.8" height="7.68" fill="#b98258"/>
<rect x="473.02" y="107.56" width="1.84" height="7.68" fill="#cf9a70"/>
<rect x="491.6" y="116.4" width="17.6" height="6.6" fill="#cfcfcf" rx="0.8"/>
<rect x="495.12" y="116.4" width="10.56" height="6.6" fill="#b98258"/>
<rect x="495.12" y="117.59" width="10.56" height="1.78" fill="#cf9a70"/>
<rect x="653" y="27.6" width="19.6" height="9.8" fill="#cfcfcf" rx="0.8"/>
<rect x="656.92" y="27.6" width="11.76" height="9.8" fill="#b98258"/>
<rect x="656.92" y="29.36" width="11.76" height="2.65" fill="#cf9a70"/>
<rect x="676" y="25.2" width="27.2" height="12.2" fill="#cfcfcf" rx="0.8"/>
<rect x="681.44" y="25.2" width="16.32" height="12.2" fill="#b98258"/>
<rect x="681.44" y="27.4" width="16.32" height="3.29" fill="#cf9a70"/>
<rect x="653.8" y="18.4" width="14.2" height="6.4" fill="#cfcfcf" rx="0.8"/>
<rect x="656.64" y="18.4" width="8.52" height="6.4" fill="#b98258"/>
<rect x="656.64" y="19.55" width="8.52" height="1.73" fill="#cf9a70"/>
<rect x="673.6" y="43.6" width="15" height="5.2" fill="#cfcfcf" rx="0.8"/>
<rect x="676.6" y="43.6" width="9" height="5.2" fill="#b98258"/>
<rect x="676.6" y="44.54" width="9" height="1.4" fill="#cf9a70"/>
<rect x="475.8" y="120.2" width="15.2" height="4.6" fill="#e0e0e0" rx="0.8"/>
<rect x="478.2" y="118.6" width="10.4" height="7.8" fill="#2a2a2a" rx="0.8"/>
<rect x="564.2" y="121" width="14.8" height="3.4" fill="#e0e0e0" rx="0.8"/>
<rect x="566.6" y="119.4" width="10" height="6.6" fill="#2a2a2a" rx="0.8"/>
<rect x="607.2" y="118.2" width="14.8" height="3.8" fill="#e0e0e0" rx="0.8"/>
<rect x="609.6" y="116.6" width="10" height="7" fill="#2a2a2a" rx="0.8"/>
<rect x="615" y="97.6" width="11.4" height="9.8" fill="#e0e0e0" rx="0.8"/>
<rect x="617.4" y="96" width="6.6" height="13" fill="#2a2a2a" rx="0.8"/>
<rect x="522.2" y="103.6" width="10.2" height="8.8" fill="#e0e0e0" rx="0.8"/>
<rect x="524.6" y="102" width="5.4" height="12" fill="#2a2a2a" rx="0.8"/>
<rect x="661.6" y="0" width="18.8" height="14.6" fill="#2c2c2c" rx="0.8"/>
<rect x="680.4" y="0" width="9.6" height="7.6" fill="#3a3a3a"/>
<rect x="652.6" y="8" width="9.4" height="5.4" fill="#d6d6d6" rx="0.6"/>
<rect x="694.4" y="0" width="9.6" height="11.2" fill="#2c2c2c"/>
<rect x="694.4" y="11.2" width="9.6" height="5.4" fill="#d8d8d8" rx="0.6"/>
<rect x="648.2" y="0" width="2.8" height="4" fill="#cfcfcf"/>
<rect x="653.4" y="0" width="8.6" height="3" fill="#d8d8d8"/>
<rect x="632" y="56.6" width="14.4" height="10.2" fill="#2b2b2b" rx="0.8"/>
<g fill="#dadada">
<rect x="632.4" y="68" width="3" height="5"/>
<rect x="637.8" y="68" width="3" height="5"/>
<rect x="643.2" y="68" width="3" height="5"/>
</g>
<g fill="#dadada">
<rect x="632.4" y="50.6" width="3" height="5"/>
<rect x="643.2" y="50.6" width="3" height="5"/>
</g>
<rect x="622.6" y="60" width="9.4" height="15" fill="#2b2b2b" rx="0.8"/>
<rect x="611" y="84.4" width="15" height="6" fill="#e2e2e2" rx="0.8"/>
<rect x="615" y="85.2" width="7" height="4.4" fill="#555"/>
<g stroke="#1c1c1c" stroke-width="1.4" fill="none"><path d="M532 52 v20 l14 14 v26 M536 48 v22 l14 14 v26 M452 46 q6 -10 18 -10 h6 M470 112 v10 h24 M600 110 v12 h30 M650 20 q-8 10 0 22 M704 44 v60"/></g>
<rect x="659.8" y="40.6" width="7.6" height="22.4" fill="url(#lead)" rx="1"/>
<rect x="692.6" y="40.6" width="7.6" height="22.4" fill="url(#lead)" rx="1"/>
<rect x="677.4" y="57.6" width="5.4" height="5.4" fill="#c9c9c9" rx="0.6"/>
<rect x="662" y="104" width="36" height="9.4" fill="url(#tab)" rx="1.4"/>
<rect x="655.2" y="61.2" width="48.2" height="45.4" fill="url(#regg)" rx="1.6"/>
<circle cx="679.6" cy="75" r="2.7" fill="none" stroke="#5d5d5d" stroke-width="0.6"/><circle cx="690.4" cy="74.6" r="3.8" fill="none" stroke="#666" stroke-width="0.7"/>
<text x="680" y="91" font-size="8" fill="#777" text-anchor="middle" transform="rotate(180 680 88.4)" textLength="28" lengthAdjust="spacingAndGlyphs">RFK32</text>
<text x="680" y="100.4" font-size="8" fill="#777" text-anchor="middle" transform="rotate(180 680 97.8)" textLength="31" lengthAdjust="spacingAndGlyphs">78M12G</text>
<path d="M713.6 0 H739.4 V20 q0 3 -3 3 H722 l-3.4 2.2 h-3.6 q-3.6 0 -3.6 -3.6 V2.4 q0 -2.4 2.2 -2.4 z" fill="url(#goldg)"/>
<path d="M715 43.6 h4 l3.4 2.6 H736.4 q3 0 3 3 V79.4 q0 3 -3 3 H715 q-3.4 0 -3.4 -3.4 V47 q0 -3.4 3.4 -3.4 z" fill="url(#goldg)"/>
<g fill="#5e4318">
<circle cx="715.4" cy="1.8" r="1"/>
<circle cx="720.8" cy="1.8" r="1"/>
<circle cx="726.2" cy="1.8" r="1"/>
<circle cx="731.6" cy="1.8" r="1"/>
<circle cx="737" cy="1.8" r="1"/>
<circle cx="715.4" cy="6" r="1"/>
<circle cx="720.8" cy="6" r="1"/>
<circle cx="726.2" cy="6" r="1"/>
<circle cx="731.6" cy="6" r="1"/>
<circle cx="737" cy="6" r="1"/>
<circle cx="715.4" cy="10.2" r="1"/>
<circle cx="720.8" cy="10.2" r="1"/>
<circle cx="726.2" cy="10.2" r="1"/>
<circle cx="731.6" cy="10.2" r="1"/>
<circle cx="737" cy="10.2" r="1"/>
<circle cx="715.4" cy="14.4" r="1"/>
<circle cx="720.8" cy="14.4" r="1"/>
<circle cx="726.2" cy="14.4" r="1"/>
<circle cx="731.6" cy="14.4" r="1"/>
<circle cx="737" cy="14.4" r="1"/>
<circle cx="715.4" cy="18.6" r="1"/>
<circle cx="720.8" cy="18.6" r="1"/>
<circle cx="726.2" cy="18.6" r="1"/>
<circle cx="731.6" cy="18.6" r="1"/>
<circle cx="737" cy="18.6" r="1"/>
<circle cx="726.2" cy="48.4" r="1"/>
<circle cx="731.6" cy="48.4" r="1"/>
<circle cx="737" cy="48.4" r="1"/>
<circle cx="715.4" cy="52.8" r="1"/>
<circle cx="720.8" cy="52.8" r="1"/>
<circle cx="726.2" cy="52.8" r="1"/>
<circle cx="731.6" cy="52.8" r="1"/>
<circle cx="737" cy="52.8" r="1"/>
<circle cx="715.4" cy="57.2" r="1"/>
<circle cx="720.8" cy="57.2" r="1"/>
<circle cx="726.2" cy="57.2" r="1"/>
<circle cx="731.6" cy="57.2" r="1"/>
<circle cx="737" cy="57.2" r="1"/>
<circle cx="715.4" cy="61.6" r="1"/>
<circle cx="720.8" cy="61.6" r="1"/>
<circle cx="726.2" cy="61.6" r="1"/>
<circle cx="731.6" cy="61.6" r="1"/>
<circle cx="737" cy="61.6" r="1"/>
<circle cx="715.4" cy="66" r="1"/>
<circle cx="720.8" cy="66" r="1"/>
<circle cx="726.2" cy="66" r="1"/>
<circle cx="731.6" cy="66" r="1"/>
<circle cx="737" cy="66" r="1"/>
<circle cx="715.4" cy="70.4" r="1"/>
<circle cx="720.8" cy="70.4" r="1"/>
<circle cx="726.2" cy="70.4" r="1"/>
<circle cx="731.6" cy="70.4" r="1"/>
<circle cx="737" cy="70.4" r="1"/>
<circle cx="715.4" cy="74.8" r="1"/>
<circle cx="720.8" cy="74.8" r="1"/>
<circle cx="726.2" cy="74.8" r="1"/>
<circle cx="731.6" cy="74.8" r="1"/>
<circle cx="737" cy="74.8" r="1"/>
<circle cx="715.4" cy="79.2" r="1"/>
<circle cx="720.8" cy="79.2" r="1"/>
<circle cx="726.2" cy="79.2" r="1"/>
<circle cx="731.6" cy="79.2" r="1"/>
<circle cx="737" cy="79.2" r="1"/>
</g>
<circle cx="716.4" cy="21.2" r="1.2" fill="#6b4a1e"/>
<circle cx="716.4" cy="47.4" r="1.2" fill="#6b4a1e"/>
<g fill="#2b2b2b">
<circle cx="715" cy="27" r="1"/>
<circle cx="720.6" cy="27" r="1"/>
<circle cx="726.2" cy="27" r="1"/>
<circle cx="731.8" cy="27" r="1"/>
<circle cx="737.4" cy="27" r="1"/>
<circle cx="715" cy="32.6" r="1"/>
<circle cx="720.6" cy="32.6" r="1"/>
<circle cx="726.2" cy="32.6" r="1"/>
<circle cx="731.8" cy="32.6" r="1"/>
<circle cx="737.4" cy="32.6" r="1"/>
<circle cx="715" cy="38.2" r="1"/>
<circle cx="720.6" cy="38.2" r="1"/>
<circle cx="726.2" cy="38.2" r="1"/>
<circle cx="731.8" cy="38.2" r="1"/>
<circle cx="737.4" cy="38.2" r="1"/>
</g>
<rect x="722.6" y="88" width="1.6" height="8" fill="#efefef"/>
<rect x="705" y="111.8" width="13.4" height="5.8" fill="#dcdcdc" rx="0.8"/>
<rect x="708.2" y="112.6" width="7" height="4.2" fill="#3a3a3a"/>
<rect x="722.6" y="111.8" width="14.2" height="5.8" fill="#dcdcdc" rx="0.8"/>
<rect x="726" y="112.6" width="7.4" height="4.2" fill="#3a3a3a"/>
<rect x="723" y="104.8" width="9" height="2.6" fill="#d0d0d0" rx="0.6"/>
<rect x="725.4" y="104.8" width="4.2" height="2.6" fill="#222"/>
<rect x="631.4" y="115.6" width="14.6" height="6" fill="#dcdcdc" rx="0.8"/>
<rect x="634.6" y="116.4" width="8.2" height="4.4" fill="#3a3a3a"/>
<path d="M450.4 157 A18 18 0 1 1 476 157" fill="none" stroke="#c39c5c" stroke-width="5.8" stroke-linecap="round"/>
<path d="M450.4 157 A18 18 0 1 1 476 157" fill="none" stroke="#e8c68b" stroke-width="4.6" stroke-linecap="round"/>
<circle cx="463.2" cy="144.6" r="14.7" fill="url(#holeg)"/>
<ellipse cx="463.5" cy="147.9" rx="12.6" ry="10.9" fill="#ffffff" filter="url(#sh2)"/>
<path d="M668.4 157 A18 18 0 1 1 694 157" fill="none" stroke="#c39c5c" stroke-width="5.8" stroke-linecap="round"/>
<path d="M668.4 157 A18 18 0 1 1 694 157" fill="none" stroke="#e8c68b" stroke-width="4.6" stroke-linecap="round"/>
<circle cx="681.2" cy="144.6" r="14.7" fill="url(#holeg)"/>
<ellipse cx="681.5" cy="147.9" rx="12.6" ry="10.9" fill="#ffffff" filter="url(#sh2)"/>
<rect x="415.2" y="137.8" width="21.4" height="21.8" fill="url(#goldg)" rx="2.2"/>
<g fill="#b98a4a">
<circle cx="422.05" cy="143.25" r="0.7"/>
<circle cx="422.05" cy="148.7" r="0.7"/>
<circle cx="422.05" cy="154.15" r="0.7"/>
<circle cx="425.9" cy="143.25" r="0.7"/>
<circle cx="425.9" cy="148.7" r="0.7"/>
<circle cx="425.9" cy="154.15" r="0.7"/>
<circle cx="429.75" cy="143.25" r="0.7"/>
<circle cx="429.75" cy="148.7" r="0.7"/>
<circle cx="429.75" cy="154.15" r="0.7"/>
</g>
<rect x="489.6" y="138.6" width="22.6" height="21" fill="url(#goldg)" rx="2.2"/>
<g fill="#b98a4a">
<circle cx="496.83" cy="143.85" r="0.7"/>
<circle cx="496.83" cy="149.1" r="0.7"/>
<circle cx="496.83" cy="154.35" r="0.7"/>
<circle cx="504.97" cy="143.85" r="0.7"/>
<circle cx="504.97" cy="149.1" r="0.7"/>
<circle cx="504.97" cy="154.35" r="0.7"/>
</g>
<rect x="533.8" y="137.8" width="22" height="21.8" fill="url(#goldg)" rx="2.2"/>
<g fill="#b98a4a">
<circle cx="540.84" cy="143.25" r="0.7"/>
<circle cx="540.84" cy="148.7" r="0.7"/>
<circle cx="540.84" cy="154.15" r="0.7"/>
<circle cx="548.76" cy="143.25" r="0.7"/>
<circle cx="548.76" cy="148.7" r="0.7"/>
<circle cx="548.76" cy="154.15" r="0.7"/>
</g>
<rect x="585" y="137.8" width="22.4" height="21.8" fill="url(#goldg)" rx="2.2"/>
<g fill="#b98a4a">
<circle cx="592.17" cy="143.25" r="0.7"/>
<circle cx="592.17" cy="154.15" r="0.7"/>
<circle cx="596.2" cy="143.25" r="0.7"/>
<circle cx="596.2" cy="154.15" r="0.7"/>
<circle cx="600.23" cy="143.25" r="0.7"/>
<circle cx="600.23" cy="154.15" r="0.7"/>
</g>
<rect x="632.4" y="137.8" width="22" height="21.8" fill="url(#goldg)" rx="2.2"/>
<g fill="#b98a4a">
<circle cx="639.44" cy="143.25" r="0.7"/>
<circle cx="639.44" cy="154.15" r="0.7"/>
<circle cx="643.4" cy="143.25" r="0.7"/>
<circle cx="643.4" cy="154.15" r="0.7"/>
<circle cx="647.36" cy="143.25" r="0.7"/>
<circle cx="647.36" cy="154.15" r="0.7"/>
</g>
<rect x="706.4" y="139.4" width="21.4" height="20.2" fill="url(#goldg)" rx="2.2"/>
<g fill="#b98a4a">
<circle cx="713.25" cy="144.45" r="0.7"/>
<circle cx="713.25" cy="154.55" r="0.7"/>
<circle cx="720.95" cy="144.45" r="0.7"/>
<circle cx="720.95" cy="154.55" r="0.7"/>
</g>
<text x="433.6" y="129.6" font-size="9.5" font-weight="bold" fill="#f2f2f2" opacity=".98" text-anchor="middle" transform="rotate(-90 433.6 129.6)">C</text>
<circle cx="418.8" cy="126.2" r="5" fill="none" stroke="#f4f4f4" stroke-width="1.3"/>
<text x="421.6" y="126.2" font-size="8" font-weight="bold" fill="#f2f2f2" opacity=".98" text-anchor="middle" transform="rotate(-90 421.6 126.2)">2</text>
<text x="502.6" y="134.2" font-size="9.5" font-weight="bold" fill="#f2f2f2" opacity=".98" text-anchor="middle" transform="rotate(-90 502.6 134.2)">B</text>
<text x="545" y="133.2" font-size="9.5" font-weight="bold" fill="#f2f2f2" opacity=".98" text-anchor="middle" transform="rotate(-90 545 133.2)">A</text>
<text x="597.4" y="133.2" font-size="9.5" font-weight="bold" fill="#f2f2f2" opacity=".98" text-anchor="middle" transform="rotate(-90 597.4 133.2)">C</text>
<text x="644.4" y="132.4" font-size="9.5" font-weight="bold" fill="#f2f2f2" opacity=".98" text-anchor="middle" transform="rotate(-90 644.4 132.4)">B</text>
<text x="710.8" y="130.8" font-size="9.5" font-weight="bold" fill="#f2f2f2" opacity=".98" text-anchor="middle" transform="rotate(-90 710.8 130.8)">A</text>
<circle cx="721" cy="129.4" r="5" fill="none" stroke="#f4f4f4" stroke-width="1.3"/>
<text x="723.8" y="129.4" font-size="8" font-weight="bold" fill="#f2f2f2" opacity=".98" text-anchor="middle" transform="rotate(-90 723.8 129.4)">1</text>
<g stroke="#0c0c0c" stroke-width="1.2" fill="none">
<path d="M332.6 35.3H389.6M753 4.4H809.4M753 66.4H809.4"/>
</g>
<g fill="#fff" stroke="#0c0c0c" stroke-width="1.1">
<circle cx="330.1" cy="34.9" r="2.6"/><circle cx="392.1" cy="34.9" r="2.6"/>
<circle cx="750.1" cy="4.8" r="2.6"/><circle cx="812.1" cy="4.8" r="2.6"/>
<circle cx="750.1" cy="66.8" r="2.6"/><circle cx="812.1" cy="66.8" r="2.6"/>
</g>
<g fill="#0c0c0c">
<circle cx="329.8" cy="34.5" r="1.5"/><circle cx="391.8" cy="34.5" r="1.5"/>
<circle cx="749.8" cy="4.4" r="1.5"/><circle cx="811.8" cy="4.4" r="1.5"/>
<circle cx="749.8" cy="66.4" r="1.5"/><circle cx="811.8" cy="66.4" r="1.5"/>
</g>
</svg>
<ul class="pin-table">
<li class="t" style="left:170px;top:-1.1px;width:100px"><b style="transform:scaleX(0.777)">1:1#ESC</b></li>
<li class="t" style="left:170px;top:17.9px;width:100px"><b style="transform:scaleX(0.777)">2:2#ESC</b></li>
<li class="t" style="left:170px;top:36.9px;width:100px"><b style="transform:scaleX(0.777)">3:3#ESC</b></li>
<li class="t" style="left:170px;top:55.9px;width:100px"><b style="transform:scaleX(0.777)">4:4#ESC</b></li>
<li class="t" style="left:170px;top:74.9px;width:100px"><b style="transform:scaleX(0.762)">CURR:CURR</b></li>
<li class="t" style="left:170px;top:93.9px;width:100px"><b style="transform:scaleX(0.731)">NC</b></li>
</ul>
<div class="rule"></div>
<ul class="pin-table">
<li class="t" style="left:260.6px;top:-1.1px;width:100px"><b style="transform:scaleX(0.825)">1</b></li>
<li class="t" style="left:260.6px;top:17.9px;width:100px"><b style="transform:scaleX(0.825)">2</b></li>
<li class="t" style="left:260.6px;top:36.9px;width:100px"><b style="transform:scaleX(0.825)">3</b></li>
<li class="t" style="left:260.6px;top:55.9px;width:100px"><b style="transform:scaleX(0.825)">4</b></li>
<li class="t" style="left:260.6px;top:74.9px;width:100px"><b style="transform:scaleX(0.775)">CURR</b></li>
<li class="t" style="left:260.6px;top:93.9px;width:100px"><b style="transform:scaleX(0.775)">NC</b></li>
</ul>
<div class="t l" style="left:826.4px;top:-4.4px"><b style="transform:scaleX(0.769)">BATTERY V+</b></div>
<div class="t l" style="left:826.4px;top:57.6px"><b style="transform:scaleX(0.794)">BATTERY V-</b></div>
</section>
<section class="spec">
<svg width="938" height="378" viewBox="0 211 938 378">
<defs>
<filter id="b1" color-interpolation-filters="sRGB" x="-20%" y="-20%" width="140%" height="140%"><feGaussianBlur stdDeviation="0.7"/></filter>
<filter id="b2" color-interpolation-filters="sRGB" x="-20%" y="-20%" width="140%" height="140%"><feGaussianBlur stdDeviation="1.6"/></filter>
<filter id="b3" color-interpolation-filters="sRGB" x="-30%" y="-30%" width="160%" height="160%"><feGaussianBlur stdDeviation="2.6"/></filter>
<filter id="b4" color-interpolation-filters="sRGB" x="-30%" y="-30%" width="160%" height="160%"><feGaussianBlur stdDeviation="4"/></filter>
<filter id="b8" color-interpolation-filters="sRGB" x="-40%" y="-40%" width="180%" height="180%"><feGaussianBlur stdDeviation="9"/></filter>
<radialGradient id="bgr" gradientUnits="userSpaceOnUse" cx="0" cy="0" r="1" gradientTransform="translate(470 300) scale(560 330)"><stop offset="0" stop-color="#181818"/><stop offset=".45" stop-color="#141414"/><stop offset=".8" stop-color="#0f0f0f"/><stop offset="1" stop-color="#0b0b0b"/></radialGradient>
<linearGradient id="capbody" x1="0" y1="0" x2="1" y2="0"><stop offset="0" stop-color="#161616"/><stop offset=".1" stop-color="#4c4c4c"/><stop offset=".2" stop-color="#2a2a2a"/><stop offset=".36" stop-color="#0c0c0c"/><stop offset=".66" stop-color="#101010"/><stop offset=".88" stop-color="#303030"/><stop offset="1" stop-color="#1c1c1c"/></linearGradient>
<linearGradient id="pin" x1="0" y1="0" x2="0" y2="1"><stop offset="0" stop-color="#424242"/><stop offset=".2" stop-color="#333"/><stop offset=".34" stop-color="#181818"/><stop offset="1" stop-color="#141414"/></linearGradient>
</defs>
<rect x="0" y="211" width="938" height="378" fill="url(#bgr)"/>
<rect x="0" y="211" width="938" height="2" fill="#080808"/>
<g filter="url(#b4)">
<path d="M0 246 L26 268 H98 L122 246 H250" fill="none" stroke="#181818" stroke-width="5"/>
<path d="M0 262 L20 282 H106 L134 258 H260" fill="none" stroke="#151515" stroke-width="4"/>
<path d="M404 215 L482 213 L474 234 L412 232 z" fill="#242424"/>
<path d="M330 222 L392 218 L388 238 L336 240 z" fill="#1d1d1d"/><path d="M322 250 L380 244 L392 300 L330 310 z" fill="#1a1a1a"/>
<path d="M392 290 a8 5 0 1 0 16 0 a8 5 0 1 0 -16 0 M412 298 a8 5 0 1 0 16 0 a8 5 0 1 0 -16 0 M398 308 a8 5 0 1 0 16 0 a8 5 0 1 0 -16 0" fill="#1c1c1c"/>
<path d="M580 212 L680 211 L668 226 L600 232 z" fill="#080808"/>
<path d="M750 216 L822 212 L840 234 L770 242 z" fill="#1d1d1d"/>
<path d="M820 246 L880 238 L914 268 L862 288 z" fill="#232323"/>
<path d="M696 312 L760 300 L785 332 L724 348 z" fill="#232323"/>
<path d="M762 362 L826 348 L854 380 L794 396 z" fill="#232323"/>
<path d="M912 298 L938 290 V318 L926 316 z" fill="#262626"/>
<path d="M850 386 L938 372 V420 L880 420 z" fill="#070707"/>
</g>
<g filter="url(#b3)">
<path d="M838 328 L896 362" stroke="#060606" stroke-width="14" stroke-linecap="round"/>
<path d="M842 321 L892 349" stroke="#2c2c2c" stroke-width="13" stroke-linecap="round" stroke-dasharray="4 2.6"/>
</g>
<g filter="url(#b1)">
<path d="M60 354 Q82 360 80 372 Q78 384 58 389 L0 403" fill="none" stroke="#2c2c2c" stroke-width="1.6"/>
<ellipse cx="37" cy="380" rx="28.5" ry="11" fill="#060606"/><ellipse cx="36" cy="377" rx="27.6" ry="10" fill="none" stroke="#303030" stroke-width="2"/>
<path d="M0 322 L9 378 A27 10 0 0 0 62.6 375 L52.6 320 z" fill="url(#capbody)"/>
<path d="M9.6 379 A27 10 0 0 0 62.4 376" fill="none" stroke="#343434" stroke-width="2.4"/>
<ellipse cx="26" cy="320.6" rx="26.6" ry="14.8" fill="#2b2b2b"/>
<ellipse cx="26" cy="320.6" rx="26.6" ry="14.8" fill="none" stroke="#363636" stroke-width="1.2"/>
</g>
<g fill="#1c1c1c" font-size="9" font-weight="bold" opacity=".9"><text x="16" y="320" transform="rotate(-8 16 320)">471</text><text x="20" y="329" transform="rotate(-8 20 329)">6.3</text></g>
<g filter="url(#b2)">
<path d="M97 298 L200 290 L203 322 L100 336 z" fill="#040404"/>
<rect x="105" y="268" width="7.4" height="34" rx="3.7" fill="url(#pin)"/>
<rect x="131.8" y="264" width="7.4" height="34" rx="3.7" fill="url(#pin)"/>
<rect x="157.6" y="259.6" width="7.4" height="34" rx="3.7" fill="url(#pin)"/>
<rect x="183" y="256" width="7.4" height="34" rx="3.7" fill="url(#pin)"/>
</g>
<g fill="none" stroke="#2d2d2d" stroke-width="1.7" stroke-linejoin="round" filter="url(#b1)">
<path d="M100 346 L160 440 M142 362 L182 398 L240 412 M152 360 L190 394 L240 406 M162 358 L196 388 L240 400"/>
<path d="M58 422 L42 444 L56 466 L88 482 L94 492 M68 420 L54 444 L66 462 L100 478 L106 488"/>
<path d="M90 424 L104 430 L126 478 M100 421 L114 427 L138 474 M96 449 L112 482 M106 446 L124 480"/>
<path d="M122 414 L160 468 M132 412 L172 464 M160 420 L196 462 M186 406 L220 452 M196 416 L226 450 M206 414 L236 446 M214 412 L244 442"/>
<path d="M186 442 L200 462 M46 478 L56 500 M58 474 L68 498 M74 478 L82 496"/>
<path d="M216 316 L250 352 L236 388 L256 420 M226 314 L260 350 L248 388 L270 424 M236 312 L270 346 L260 384 L284 424 M246 310 L282 342 L276 378 L300 420"/>
<path d="M272 404 L296 440 M262 416 L282 444"/>
<path d="M318 338 L452 330 M322 344 L456 336 M326 350 L460 342 M330 356 L462 348" stroke="#242424" stroke-width="2"/>
</g>
<g fill="#101010" stroke="#2d2d2d" stroke-width="1.3">
<circle cx="100" cy="346" r="2.1"/>
<circle cx="142" cy="362" r="2.1"/>
<circle cx="152" cy="360" r="2.1"/>
<circle cx="162" cy="358" r="2.1"/>
<circle cx="58" cy="422" r="2.1"/>
<circle cx="68" cy="420" r="2.1"/>
<circle cx="90" cy="424" r="2.1"/>
<circle cx="100" cy="421" r="2.1"/>
<circle cx="122" cy="414" r="2.1"/>
<circle cx="132" cy="412" r="2.1"/>
<circle cx="160" cy="420" r="2.1"/>
<circle cx="186" cy="406" r="2.1"/>
<circle cx="196" cy="416" r="2.1"/>
<circle cx="206" cy="414" r="2.1"/>
<circle cx="214" cy="412" r="2.1"/>
<circle cx="96" cy="449" r="2.1"/>
<circle cx="106" cy="446" r="2.1"/>
<circle cx="46" cy="478" r="2.1"/>
<circle cx="58" cy="474" r="2.1"/>
<circle cx="74" cy="478" r="2.1"/>
<circle cx="186" cy="442" r="2.1"/>
<circle cx="272" cy="404" r="2.1"/>
<circle cx="262" cy="416" r="2.1"/>
</g>
<path d="M51 502 L384 419.5 Q400 415.5 410 427 L553 589 H82 z" fill="#0b0b0b"/>
<path d="M54 497 L388 414" stroke="#222" stroke-width="8" fill="none" filter="url(#b3)"/>
<path d="M56 498.6 L386 416.6" stroke="#2e2e2e" stroke-width="3" stroke-dasharray="4.6 3" fill="none" filter="url(#b1)"/>
<path d="M414 428 L558 589" stroke="#222" stroke-width="8" fill="none" filter="url(#b3)"/>
<path d="M413 429 L556 589" stroke="#2e2e2e" stroke-width="3" stroke-dasharray="4.6 3.4" fill="none" filter="url(#b1)"/>
<g fill="#191919" font-weight="bold" filter="url(#b1)">
<text x="192" y="600" font-size="41" transform="rotate(-17 192 600)" textLength="228" lengthAdjust="spacingAndGlyphs">M7N25K9T3</text>
<text x="286" y="612" font-size="21" transform="rotate(-17 286 612)" textLength="112" lengthAdjust="spacingAndGlyphs">00F-GC20</text>
<text x="354" y="610" font-size="21" transform="rotate(-17 354 610)">LY17</text>
</g>
<g fill="none" stroke="#1c1c1c" stroke-width="3.4" stroke-linejoin="round" filter="url(#b1)">
<path d="M0 546 L28 542 L42 528 L56 526 M0 556 L30 552 L44 538 L60 536 M0 566 L32 562 L46 548 L64 546 M0 576 L34 572 L48 558 L68 556 M0 586 L36 582 L50 568 L72 566 M20 589 L52 578 L76 576"/>
</g>
<g fill="none" stroke="#2d2d2d" stroke-width="1.7" stroke-linejoin="round" filter="url(#b1)">
<path d="M418.3 436.7 L628.3 382.1"/>
<path d="M425.4 444.6 L625.4 392.6"/>
<path d="M432.5 452.4 L622.5 403"/>
<path d="M439.6 460.3 L569.6 426.5"/>
<path d="M446.7 468.1 L596.7 429.1"/>
<path d="M453.8 476 L618.8 433.1"/>
<path d="M460.9 483.8 L640.9 437"/>
<path d="M468 491.7 L578 463.1"/>
<path d="M475.1 499.5 L593.1 468.8"/>
<path d="M482.2 507.4 L608.2 474.6"/>
<path d="M489.3 515.2 L624.3 480.1"/>
<path d="M496.4 523.1 L646.4 484.1"/>
<path d="M503.5 530.9 L623.5 499.7"/>
<path d="M510.6 538.8 L638.6 505.5"/>
<path d="M517.7 546.6 L651.7 511.8"/>
<path d="M524.8 554.5 L614.8 531.1"/>
<path d="M531.9 562.3 L651.9 531.1"/>
<path d="M539 570.2 L671 535.8"/>
<path d="M546.1 578 L646.1 552"/>
<path d="M553.2 585.9 L663.2 557.3"/>
<path d="M600 520 L612 486 L632 480 M612 560 L650 548 L700 556 M590 584 L640 568 L700 576"/>
</g>
<g fill="#101010" stroke="#2d2d2d" stroke-width="1.3">
<circle cx="571.1" cy="426.2" r="2.1"/>
<circle cx="598.2" cy="428.8" r="2.1"/>
<circle cx="620.3" cy="432.8" r="2.1"/>
<circle cx="642.4" cy="436.7" r="2.1"/>
<circle cx="579.5" cy="462.8" r="2.1"/>
<circle cx="594.6" cy="468.5" r="2.1"/>
<circle cx="609.7" cy="474.3" r="2.1"/>
<circle cx="625.8" cy="479.8" r="2.1"/>
<circle cx="647.9" cy="483.8" r="2.1"/>
<circle cx="625" cy="499.4" r="2.1"/>
<circle cx="640.1" cy="505.2" r="2.1"/>
<circle cx="653.2" cy="511.5" r="2.1"/>
<circle cx="616.3" cy="530.8" r="2.1"/>
<circle cx="653.4" cy="530.8" r="2.1"/>
<circle cx="672.5" cy="535.5" r="2.1"/>
<circle cx="647.6" cy="551.7" r="2.1"/>
<circle cx="664.7" cy="557" r="2.1"/>
</g>
<g filter="url(#b2)">
<path d="M388 378 L420 372 L428 396 L396 404 z" fill="#030303"/>
<path d="M420 372 L452 366 L460 390 L428 396 z" fill="#040404"/>
<path d="M452 366 L482 360 L492 384 L460 390 z" fill="#030303"/>
<path d="M392 376 L412 372 L414 378 L394 382 z" fill="#1c1c1c"/>
<path d="M424 370 L444 366 L446 372 L426 376 z" fill="#1a1a1a"/>
<path d="M456 364 L476 360 L478 366 L458 370 z" fill="#181818"/>
</g>
<g filter="url(#b2)">
<path d="M512 326 L546 356 L602 346 L606 370 L548 382 L506 348 z" fill="#050505"/>
<g fill="#343434">
<circle cx="506" cy="326" r="3.3"/>
<circle cx="512.6" cy="333.2" r="3.3"/>
<circle cx="519.2" cy="340.4" r="3.3"/>
<circle cx="525.8" cy="347.6" r="3.3"/>
<circle cx="532.4" cy="354.8" r="3.3"/>
<circle cx="502" cy="344" r="3"/>
<circle cx="509" cy="351.4" r="3"/>
<circle cx="516" cy="358.8" r="3"/>
<circle cx="523" cy="366.2" r="3"/>
<circle cx="556" cy="362" r="3.3"/>
<circle cx="565.6" cy="358.6" r="3.3"/>
<circle cx="575.2" cy="355.2" r="3.3"/>
<circle cx="584.8" cy="351.8" r="3.3"/>
<circle cx="594.4" cy="348.4" r="3.3"/>
<circle cx="558" cy="374" r="2.8"/>
<circle cx="567" cy="371" r="2.8"/>
</g></g>
<g fill="none" stroke="#1e1e1e" stroke-width="2" filter="url(#b1)">
<path d="M618 340 q40 -22 70 6 v70 M626 350 q30 -16 52 4 v60 M634 360 q22 -10 36 2 v52"/>
</g>
<g filter="url(#b2)">
<path d="M842 402 L924 390 L934 428 L872 452 z" fill="#070707"/>
<path d="M816 440 L850 452 L878 444 L876 462 L846 470 L818 456 z" fill="#050505"/>
<path d="M819 428 L846 410 L868 420 L864 438 L850 451 L822 438 z" fill="#262626"/>
<path d="M819 428 L846 410 L858 415 L832 434 z" fill="#363636"/>
</g>
<g filter="url(#b1)">
<path d="M683 449 L700 441 L796 491 L790 503 L760 524 L750 523 L683 479 z" fill="#050505"/>
<path d="M700 442 L795 491 L764 506 L690 458 z" fill="#0c0c0c"/>
<g stroke="#1a1a1a" stroke-width="5" stroke-linecap="round" fill="none">
<path d="M691 475 l-11 9"/>
<path d="M699.6 481 l-11 9"/>
<path d="M708.2 487 l-11 9"/>
<path d="M716.8 493 l-11 9"/>
<path d="M725.4 499 l-11 9"/>
<path d="M734 505 l-11 9"/>
<path d="M742.6 511 l-11 9"/>
</g><g stroke="#505050" stroke-width="3.4" stroke-linecap="round" fill="none">
<path d="M690.6 474 l-5.4 5"/>
<path d="M699.2 480 l-5.4 5"/>
<path d="M707.8 486 l-5.4 5"/>
<path d="M716.4 492 l-5.4 5"/>
<path d="M725 498 l-5.4 5"/>
<path d="M733.6 504 l-5.4 5"/>
<path d="M742.2 510 l-5.4 5"/>
</g></g>
<g fill="none" stroke="#2d2d2d" stroke-width="1.7" stroke-linejoin="round" filter="url(#b1)">
<path d="M823 479 L938 426.1"/>
<path d="M830.6 484.7 L938 435.3"/>
<path d="M838.2 490.4 L938 444.5"/>
<path d="M845.8 496.1 L938 453.7"/>
<path d="M853.4 501.8 L938 462.9"/>
<path d="M861 507.5 L938 472.1"/>
<path d="M868.6 513.2 L938 481.3"/>
<path d="M876.2 518.9 L938 490.5"/>
<path d="M883.8 524.6 L913.8 510.6 L938 512.1"/>
<path d="M891.4 530.3 L921.4 516.3 L938 517.3"/>
<path d="M899 536 L929 522 L938 522.5"/>
<path d="M906.6 541.7 L936.6 527.7 L938 527.8"/>
<path d="M845 523 L821 535 L811 553 L807 589"/>
<path d="M853.4 529.2 L829.4 541.2 L819.4 559.2 L813.9 589"/>
<path d="M861.8 535.4 L837.8 547.4 L827.8 565.4 L820.8 589"/>
<path d="M870.2 541.6 L846.2 553.6 L836.2 571.6 L827.7 589"/>
<path d="M878.6 547.8 L854.6 559.8 L844.6 577.8 L834.6 589"/>
<path d="M728 404 q18 6 22 22 l4 36 M640 420 h40 v30 M706 436 l40 -8 M770 470 l34 -8 M776 480 l34 -8 M790 490 l30 16 l14 20"/>
<path d="M660 500 l-14 4 l-6 20 M672 508 l-16 6 M706 556 l-30 14"/>
</g>
<g fill="#101010" stroke="#2d2d2d" stroke-width="1.3">
<ellipse cx="823" cy="479" rx="2.6" ry="2"/>
<ellipse cx="830.6" cy="484.7" rx="2.6" ry="2"/>
<ellipse cx="838.2" cy="490.4" rx="2.6" ry="2"/>
<ellipse cx="845.8" cy="496.1" rx="2.6" ry="2"/>
<ellipse cx="853.4" cy="501.8" rx="2.6" ry="2"/>
<ellipse cx="861" cy="507.5" rx="2.6" ry="2"/>
<ellipse cx="868.6" cy="513.2" rx="2.6" ry="2"/>
<ellipse cx="876.2" cy="518.9" rx="2.6" ry="2"/>
<ellipse cx="883.8" cy="524.6" rx="2.6" ry="2"/>
<ellipse cx="891.4" cy="530.3" rx="2.6" ry="2"/>
<ellipse cx="899" cy="536" rx="2.6" ry="2"/>
<ellipse cx="906.6" cy="541.7" rx="2.6" ry="2"/>
<ellipse cx="845" cy="523" rx="2.6" ry="2"/>
<ellipse cx="853.4" cy="529.2" rx="2.6" ry="2"/>
<ellipse cx="861.8" cy="535.4" rx="2.6" ry="2"/>
<ellipse cx="870.2" cy="541.6" rx="2.6" ry="2"/>
<ellipse cx="878.6" cy="547.8" rx="2.6" ry="2"/>
<circle cx="646" cy="504" r="2.1"/>
<circle cx="656" cy="514" r="2.1"/>
<circle cx="676" cy="570" r="2.1"/>
<circle cx="640" cy="524" r="2.1"/>
<circle cx="834" cy="526" r="2.1"/>
</g>
<g filter="url(#b4)" fill="#181818"><ellipse cx="772" cy="559" rx="24" ry="13"/></g>
<g fill="none" stroke="#424242" stroke-width="2.6" filter="url(#b1)">
<ellipse cx="761.4" cy="563" rx="6.4" ry="4.6"/><ellipse cx="782.4" cy="554.2" rx="6.4" ry="4.6"/>
</g>
</svg>
<h2><b>SPEC</b></h2>
<ul class="specs">
<li style="left:261.1px;top:153.9px"><b style="transform:scaleX(0.932)">Input Voltage: 3-6S</b></li>
<li style="left:261.1px;top:201.9px"><b style="transform:scaleX(0.928)">Current: 4*45A</b></li>
<li style="left:261.1px;top:249.9px"><b style="transform:scaleX(0.925)">Peak current: 4*55A</b></li>
<li style="left:261.1px;top:297.9px"><b style="transform:scaleX(0.920)">Current scale: 200</b></li>
<li style="left:569.5px;top:153.9px"><b style="transform:scaleX(0.871)">ESC soft: BLS</b></li>
<li style="left:569.5px;top:201.9px"><b style="transform:scaleX(0.928)">Weight: 13g</b></li>
<li style="left:569.5px;top:249.9px"><b style="transform:scaleX(0.959)">Mounting hole: 30.5mm</b></li>
</ul>
</section>
</body>
</html>
